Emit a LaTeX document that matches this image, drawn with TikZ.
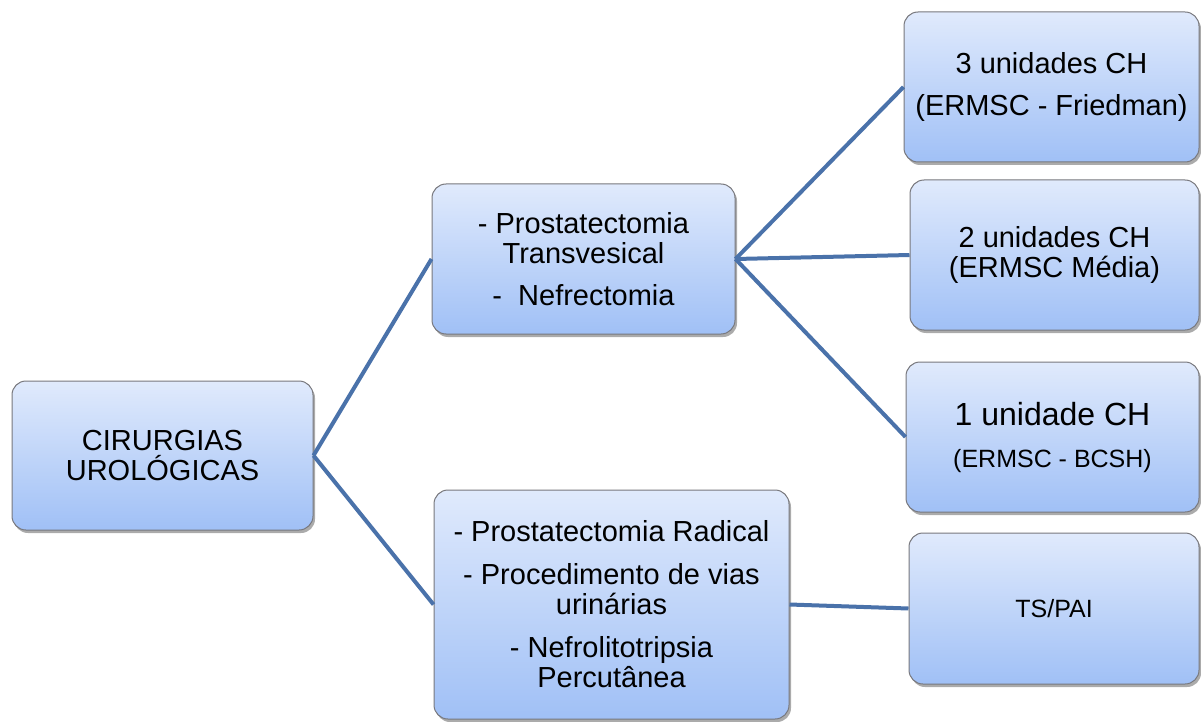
\documentclass[tikz,border=0pt]{standalone}
\usepackage{fontspec}
\setmainfont{Liberation Sans}
\usetikzlibrary{shadows}
\definecolor{linec}{RGB}{74,114,170}
\definecolor{topc}{RGB}{224,234,252}
\definecolor{botc}{RGB}{160,192,246}
\definecolor{edgec}{RGB}{120,120,125}
\tikzset{
  box/.style={draw=edgec, line width=1pt, rounded corners=14pt, top color=topc, bottom color=botc,
    drop shadow={shadow xshift=2pt, shadow yshift=-3pt, fill=black!55, opacity=0.6},
    align=center, inner sep=0pt, font=\fontsize{29}{30}\selectfont},
  conn/.style={draw=linec, line width=4pt}
}
\begin{document}
\begin{tikzpicture}[x=1pt,y=-1pt]
\useasboundingbox (0,0) rectangle (1201,722);
\node[box, minimum width=301pt, minimum height=149pt] (root) at (162.5,455.5) {CIRURGIAS\\UROLÓGICAS};
\node[box, minimum width=303pt, minimum height=150pt] (mid1) at (583.5,259) {- Prostatectomia\\Transvesical\\[12pt]-\ \ Nefrectomia};
\node[box, minimum width=355pt, minimum height=229pt] (mid2) at (611.5,604.5) {- Prostatectomia Radical\\[13pt]- Procedimento de vias\\urinárias\\[13pt]- Nefrolitotripsia\\Percutânea};
\node[box, minimum width=295pt, minimum height=150pt] (r1) at (1051.5,87) {3 unidades CH\\[12pt](ERMSC - Friedman)};
\node[box, minimum width=289pt, minimum height=150pt] (r2) at (1054.5,255) {2 unidades CH\\(ERMSC Média)};
\node[box, minimum width=293pt, minimum height=150pt] (r3) at (1052.5,437) {{\fontsize{32}{32}\selectfont 1 unidade CH}\\[12pt]{\fontsize{25}{26}\selectfont (ERMSC - BCSH)}};
\node[box, minimum width=290pt, minimum height=151pt, font=\fontsize{25}{26}\selectfont] (r4) at (1054,608.5) {TS/PAI};
\draw[conn] (root.east) -- (mid1.west);
\draw[conn] (root.east) -- (mid2.west);
\draw[conn] (mid1.east) -- (r1.west);
\draw[conn] (mid1.east) -- (r2.west);
\draw[conn] (mid1.east) -- (r3.west);
\draw[conn] (mid2.east) -- (r4.west);
\end{tikzpicture}
\end{document}
